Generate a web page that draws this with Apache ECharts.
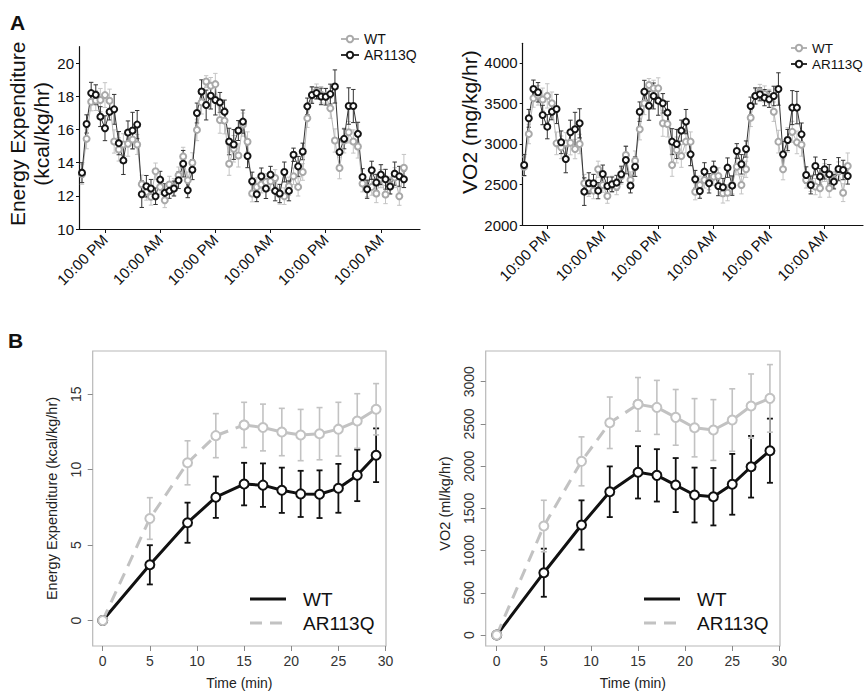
<!DOCTYPE html>
<html><head><meta charset="utf-8">
<script src="https://cdn.jsdelivr.net/npm/echarts@6/dist/echarts.min.js"></script>
<style>html,body{margin:0;padding:0;background:#fff}#c{width:868px;height:694px}</style>
</head><body><div id="c"></div>
<script>
const FONT = '"Liberation Sans", Arial, Helvetica, sans-serif';

// ---------- Panel A: hourly recordings (hours from start) ----------
const tickHoursA = [5, 17, 29, 41, 53, 65];
const tickLabelsA = ['10:00 PM', '10:00 AM', '10:00 PM', '10:00 AM', '10:00 PM', '10:00 AM'];

const eeWT_A = [13.3, 15.44, 17.68, 17.75, 17.78, 18.08, 17.74, 15.28, 14.8, 15.1, 15.14, 15.4, 15.1, 12.7, 12.24, 11.94, 13.48, 12.54, 11.74, 12.68, 12.54, 13.24, 14.38, 12.94, 14.0, 15.98, 17.64, 18.9, 18.64, 18.74, 16.58, 16.54, 13.94, 14.84, 14.44, 16.3,
  15.26, 12.14, 12.54, 12.68, 12.84, 12.88, 13.08, 12.1, 11.98, 12.58, 13.18, 12.54, 13.44, 16.68, 18.1, 18.3, 18.1, 18.04, 17.28, 15.34, 13.68, 15.34, 15.84, 15.28, 14.98, 12.74, 12.44, 12.54, 12.14, 13.04, 12.08, 12.64, 13.1, 11.98, 13.7];
const eeWT_A_err = [0.6, 0.6, 0.55, 0.6, 0.7, 0.75, 0.7, 0.7, 0.7, 0.65, 0.75, 0.6, 0.6, 0.55, 0.5, 0.5, 0.5, 0.45, 0.45, 0.5, 0.5, 0.5, 0.55, 0.5, 0.6, 0.65, 0.7, 0.35, 0.5, 0.65, 0.8, 0.8, 0.7, 0.8, 0.7, 0.7,
  0.6, 0.5, 0.55, 0.5, 0.5, 0.55, 0.5, 0.6, 0.5, 0.55, 0.5, 0.55, 0.5, 0.55, 0.45, 0.45, 0.5, 0.45, 0.6, 0.7, 0.65, 0.75, 0.65, 0.7, 0.7, 0.5, 0.5, 0.5, 0.55, 0.55, 0.55, 0.5, 0.6, 0.55, 0.8];
const eeAR_A = [13.4, 16.34, 18.2, 18.1, 16.78, 16.08, 17.08, 17.22, 15.18, 14.14, 15.82, 15.94, 16.3, 12.1, 12.58, 12.44, 11.98, 12.98, 12.18, 12.3, 12.44, 12.94, 13.94, 12.34, 13.58, 17.0, 18.3, 17.48, 18.04, 17.78, 17.64, 17.08, 15.28, 15.1, 15.94, 16.48,
  14.4, 12.88, 12.1, 13.18, 12.44, 13.28, 12.3, 12.14, 13.44, 12.3, 14.48, 13.78, 14.68, 17.4, 18.08, 18.2, 18.0, 17.98, 18.14, 18.6, 14.64, 15.44, 17.42, 17.42, 15.74, 13.14, 12.4, 13.54, 12.8, 13.28, 13.0, 12.56, 13.34, 13.18, 13.0];
const eeAR_A_err = [0.6, 0.55, 0.65, 0.6, 0.6, 0.75, 0.5, 0.9, 0.7, 0.85, 0.7, 1.1, 0.85, 0.8, 0.65, 0.55, 0.5, 0.5, 0.55, 0.45, 0.45, 0.5, 0.8, 0.45, 0.6, 0.6, 0.7, 0.9, 0.8, 0.9, 0.6, 0.7, 0.8, 0.9, 0.6, 0.7,
  0.7, 0.55, 0.45, 0.5, 0.6, 0.5, 0.6, 0.55, 0.6, 0.6, 0.4, 0.6, 0.5, 0.5, 0.5, 0.35, 0.5, 0.5, 0.6, 1.0, 0.8, 0.6, 1.1, 1.0, 0.7, 0.5, 0.55, 0.55, 0.5, 0.6, 0.6, 0.45, 0.7, 0.6, 0.5];

const vo2WT_A = [2720, 3123, 3564, 3600, 3550, 3594, 3502, 3008, 2959, 3010, 3016, 2938, 3000, 2515, 2453, 2424, 2688, 2494, 2358, 2502, 2474, 2605, 2865, 2556, 2794, 3181, 3502, 3728, 3687, 3687, 3255, 3247, 2741, 2926, 2852, 3029,
  3029, 2411, 2494, 2556, 2535, 2597, 2605, 2391, 2399, 2494, 2720, 2494, 2688, 3325, 3593, 3646, 3617, 3584, 3399, 3029, 2688, 3050, 3150, 3020, 2990, 2556, 2515, 2474, 2453, 2647, 2453, 2556, 2659, 2399, 2729];
const vo2WT_A_err = [120, 120, 110, 120, 140, 150, 140, 140, 140, 130, 150, 120, 120, 110, 100, 100, 100, 90, 90, 100, 100, 100, 110, 100, 120, 130, 140, 80, 100, 130, 160, 160, 140, 160, 140, 140,
  120, 100, 110, 100, 100, 110, 100, 120, 100, 110, 100, 110, 100, 110, 90, 90, 100, 90, 120, 140, 130, 150, 130, 140, 140, 100, 100, 100, 110, 110, 110, 100, 120, 110, 160];
const vo2AR_A = [2741, 3317, 3679, 3638, 3358, 3214, 3399, 3432, 3021, 2815, 3144, 3181, 3255, 2412, 2515, 2515, 2424, 2630, 2482, 2502, 2523, 2626, 2802, 2486, 2720, 3399, 3646, 3473, 3593, 3535, 3502, 3387, 3029, 3000, 3165, 3276,
  2872, 2564, 2420, 2659, 2515, 2688, 2482, 2465, 2708, 2486, 2914, 2749, 2938, 3469, 3593, 3613, 3572, 3552, 3593, 3679, 2872, 3049, 3449, 3449, 3119, 2618, 2494, 2729, 2597, 2688, 2626, 2535, 2692, 2679, 2605];
const vo2AR_A_err = [130, 110, 110, 120, 120, 150, 100, 180, 140, 170, 150, 210, 180, 170, 130, 110, 100, 110, 110, 90, 90, 100, 170, 90, 120, 120, 140, 180, 160, 180, 120, 140, 160, 180, 130, 150,
  140, 110, 90, 110, 120, 100, 120, 110, 120, 120, 90, 120, 100, 110, 100, 80, 100, 100, 120, 200, 160, 130, 210, 200, 140, 100, 110, 110, 100, 120, 120, 90, 140, 120, 100];

// ---------- Panel B: time course (min) ----------
const timeB = [0, 5, 9, 12, 15, 17, 19, 21, 23, 25, 27, 29];
const timeTicksB = [0, 5, 10, 15, 20, 25, 30];
const eeTicksB = [0, 5, 10, 15];
const vo2TicksB = [0, 500, 1000, 1500, 2000, 2500, 3000];
const eeWT_B = [0, 3.69, 6.48, 8.17, 9.04, 8.97, 8.63, 8.39, 8.37, 8.76, 9.62, 10.95];
const eeWT_B_err = [0, 1.3, 1.33, 1.37, 1.41, 1.44, 1.5, 1.53, 1.58, 1.62, 1.71, 1.78];
const eeAR_B = [0, 6.76, 10.45, 12.25, 12.96, 12.79, 12.49, 12.29, 12.38, 12.68, 13.22, 14.0];
const eeAR_B_err = [0, 1.38, 1.46, 1.46, 1.5, 1.55, 1.57, 1.7, 1.73, 1.78, 1.81, 1.7];
const vo2WT_B = [0, 738, 1303, 1697, 1927, 1891, 1776, 1658, 1638, 1785, 1993, 2183];
const vo2WT_B_err = [0, 285, 292, 300, 310, 310, 320, 325, 340, 360, 365, 380];
const vo2AR_B = [0, 1291, 2057, 2514, 2732, 2696, 2578, 2455, 2428, 2546, 2712, 2803];
const vo2AR_B_err = [0, 305, 290, 305, 318, 320, 330, 345, 360, 370, 380, 400];

// ---------- helpers ----------
const hoursA = eeWT_A.map((_, i) => i);
const pairs = (xs, ys) => xs.map((x, i) => [x, ys[i]]);
const errData = (xs, ys, es) => xs.map((x, i) => [x, ys[i] - es[i], ys[i] + es[i]]).filter((d, i) => es[i] > 0);
const plain = v => String(v);

function errRender(capHalf, color, width) {
  return function (params, api) {
    const x = api.value(0), lo = api.value(1), hi = api.value(2);
    const p1 = api.coord([x, hi]), p2 = api.coord([x, lo]);
    const st = { stroke: color, lineWidth: width };
    return {
      type: 'group', children: [
        { type: 'line', shape: { x1: p1[0], y1: p1[1], x2: p2[0], y2: p2[1] }, style: st },
        { type: 'line', shape: { x1: p1[0] - capHalf, y1: p1[1], x2: p1[0] + capHalf, y2: p1[1] }, style: st },
        { type: 'line', shape: { x1: p2[0] - capHalf, y1: p2[1], x2: p2[0] + capHalf, y2: p2[1] }, style: st }
      ]
    };
  };
}
function errSeries(name, idx, data, cap, color, width) {
  return { type: 'custom', name: name, xAxisIndex: idx, yAxisIndex: idx, data: data,
    encode: { x: 0, y: [1, 2] }, renderItem: errRender(cap, color, width), silent: true, z: 2 };
}

const GRAY_A = '#a9a9a9', GRAY_A_ERR = '#c4c4c4', BLACK_A = '#151515';
function lineA(name, idx, ys, color, lineColor) {
  return { type: 'line', name: name, xAxisIndex: idx, yAxisIndex: idx, data: pairs(hoursA, ys),
    symbol: 'emptyCircle', symbolSize: 6, showSymbol: true,
    lineStyle: { color: lineColor, width: 1 },
    itemStyle: { color: color, borderColor: color, borderWidth: 1.6 },
    animation: false, z: 3 };
}

const GRAY_B = '#c2c2c2';
function lineB(name, idx, xs, ys, color, dashed) {
  return { type: 'line', name: name, xAxisIndex: idx, yAxisIndex: idx, data: pairs(xs, ys),
    symbol: 'emptyCircle', symbolSize: 9,
    lineStyle: { color: color, width: 3, type: dashed ? [12, 8] : 'solid' },
    itemStyle: { color: color, borderColor: color, borderWidth: 2.2 },
    animation: false, z: 3 };
}

function xAxisA(idx) {
  return { type: 'value', gridIndex: idx, min: idx === 0 ? -0.65 : -0.32, max: idx === 0 ? 73.5 : 73.3,
    axisLine: { onZero: false, lineStyle: { color: '#111', width: 1.2 } },
    axisTick: { customValues: tickHoursA, length: 4, lineStyle: { color: '#111' } },
    axisLabel: { customValues: tickHoursA, rotate: 45, margin: 8, fontSize: 15, color: '#111', fontFamily: FONT,
      formatter: v => tickLabelsA[tickHoursA.indexOf(v)] },
    splitLine: { show: false } };
}
function xAxisB(idx, min, max) {
  return { type: 'value', gridIndex: idx, min: min, max: max,
    name: 'Time (min)', nameLocation: 'middle', nameGap: 30,
    nameTextStyle: { fontSize: 14, color: '#222', fontFamily: FONT },
    axisLine: { show: false, onZero: false },
    axisTick: { customValues: timeTicksB, length: 5, lineStyle: { color: '#888' } },
    axisLabel: { customValues: timeTicksB, margin: 8, fontSize: 14, color: '#333', fontFamily: FONT, formatter: plain },
    splitLine: { show: false } };
}

const chart = echarts.init(document.getElementById('c'), null, { renderer: 'svg' });
chart.setOption({
  backgroundColor: '#fff',
  animation: false,
  grid: [
    { left: 79, top: 46.7, width: 341, height: 182.3 },
    { left: 522.7, top: 43.3, width: 340.3, height: 181.7 },
    { left: 92.7, top: 351, width: 293.3, height: 295, show: true, borderColor: '#b8b8b8', borderWidth: 1.2 },
    { left: 485.7, top: 351, width: 294.3, height: 295, show: true, borderColor: '#b8b8b8', borderWidth: 1.2 }
  ],
  xAxis: [xAxisA(0), xAxisA(1), xAxisB(2, -1.06, 30.05), xAxisB(3, -1.17, 30.07)],
  yAxis: [
    { type: 'value', gridIndex: 0, min: 10, max: 21, interval: 2,
      name: 'Energy Expenditure\n(kcal/kg/hr)', nameLocation: 'middle', nameGap: 20,
      nameTextStyle: { fontSize: 21, lineHeight: 24, color: '#111', fontFamily: FONT, padding: [0, 0, 0, 8] },
      axisLine: { show: true, onZero: false, lineStyle: { color: '#111', width: 1.2 } },
      axisTick: { show: true, length: 3, lineStyle: { color: '#111' } },
      axisLabel: { fontSize: 15, color: '#111', margin: 5, fontFamily: FONT, showMaxLabel: false, formatter: plain },
      splitLine: { show: false } },
    { type: 'value', gridIndex: 1, min: 2000, max: 4243, interval: 500,
      name: 'VO2 (mg/kg/hr)', nameLocation: 'middle', nameGap: 32,
      nameTextStyle: { fontSize: 21, color: '#111', fontFamily: FONT, padding: [0, 0, 0, 24] },
      axisLine: { show: true, onZero: false, lineStyle: { color: '#111', width: 1.2 } },
      axisTick: { show: true, length: 3, lineStyle: { color: '#111' } },
      axisLabel: { fontSize: 15, color: '#111', margin: 5, fontFamily: FONT, showMaxLabel: false, formatter: plain },
      splitLine: { show: false } },
    { type: 'value', gridIndex: 2, min: -1.69, max: 17.86,
      name: 'Energy Expenditure (kcal/kg/hr)', nameLocation: 'middle', nameGap: 33,
      nameTextStyle: { fontSize: 14.5, color: '#222', fontFamily: FONT },
      axisLine: { show: false, onZero: false },
      axisTick: { customValues: eeTicksB, length: 5, lineStyle: { color: '#888' } },
      axisLabel: { customValues: eeTicksB, rotate: 90, margin: 10, fontSize: 14, color: '#333', fontFamily: FONT, formatter: plain },
      splitLine: { show: false } },
    { type: 'value', gridIndex: 3, min: -130, max: 3364,
      name: 'VO2 (ml/kg/hr)', nameLocation: 'middle', nameGap: 33,
      nameTextStyle: { fontSize: 14.5, color: '#222', fontFamily: FONT, padding: [0, 10, 0, 0] },
      axisLine: { show: false, onZero: false },
      axisTick: { customValues: vo2TicksB, length: 5, lineStyle: { color: '#888' } },
      axisLabel: { customValues: vo2TicksB, rotate: 90, margin: 10, fontSize: 14, color: '#333', fontFamily: FONT, formatter: plain },
      splitLine: { show: false } }
  ],
  legend: [
    { data: ['WT', 'AR113Q'], left: 340, top: 31, padding: 0, orient: 'vertical', itemWidth: 18, itemHeight: 8, itemGap: 0,
      selectedMode: false, textStyle: { fontSize: 14, lineHeight: 16, color: '#111', fontFamily: FONT } },
    { data: ['WT', 'AR113Q'], left: 790, top: 40, padding: 0, orient: 'vertical', itemWidth: 16, itemHeight: 8, itemGap: 0,
      selectedMode: false, textStyle: { fontSize: 13.5, lineHeight: 16, color: '#111', fontFamily: FONT } }
  ],
  graphic: [
    { type: 'text', left: 10, top: 12, style: { text: 'A', font: 'bold 21px ' + FONT, fill: '#111' } },
    { type: 'text', left: 8, top: 330, style: { text: 'B', font: 'bold 21px ' + FONT, fill: '#111' } },
    { type: 'line', shape: { x1: 250, y1: 599, x2: 286, y2: 599 }, style: { stroke: '#111', lineWidth: 3 } },
    { type: 'line', shape: { x1: 250, y1: 623, x2: 286, y2: 623 }, style: { stroke: GRAY_B, lineWidth: 3, lineDash: [12, 8] } },
    { type: 'text', x: 303, y: 599, style: { text: 'WT', font: '19px ' + FONT, fill: '#111', textVerticalAlign: 'middle', verticalAlign: 'middle' } },
    { type: 'text', x: 303, y: 623, style: { text: 'AR113Q', font: '19px ' + FONT, fill: '#111', textVerticalAlign: 'middle', verticalAlign: 'middle' } },
    { type: 'line', shape: { x1: 644, y1: 599, x2: 680, y2: 599 }, style: { stroke: '#111', lineWidth: 3 } },
    { type: 'line', shape: { x1: 644, y1: 623, x2: 680, y2: 623 }, style: { stroke: GRAY_B, lineWidth: 3, lineDash: [12, 8] } },
    { type: 'text', x: 697, y: 599, style: { text: 'WT', font: '19px ' + FONT, fill: '#111', textVerticalAlign: 'middle', verticalAlign: 'middle' } },
    { type: 'text', x: 697, y: 623, style: { text: 'AR113Q', font: '19px ' + FONT, fill: '#111', textVerticalAlign: 'middle', verticalAlign: 'middle' } }
  ],
  series: [
    // A left: energy expenditure
    lineA('WT', 0, eeWT_A, GRAY_A, '#b5b5b5'),
    lineA('AR113Q', 0, eeAR_A, BLACK_A, '#333'),
    errSeries('WT sem EE', 0, errData(hoursA, eeWT_A, eeWT_A_err), 2.2, GRAY_A_ERR, 1),
    errSeries('AR113Q sem EE', 0, errData(hoursA, eeAR_A, eeAR_A_err), 2.2, '#333', 1),
    // A right: VO2
    lineA('WT', 1, vo2WT_A, GRAY_A, '#b5b5b5'),
    lineA('AR113Q', 1, vo2AR_A, BLACK_A, '#333'),
    errSeries('WT sem VO2', 1, errData(hoursA, vo2WT_A, vo2WT_A_err), 2.2, GRAY_A_ERR, 1),
    errSeries('AR113Q sem VO2', 1, errData(hoursA, vo2AR_A, vo2AR_A_err), 2.2, '#333', 1),
    // B left
    errSeries('WT sem B1', 2, errData(timeB, eeWT_B, eeWT_B_err), 3, '#111', 1.8),
    lineB('WT', 2, timeB, eeWT_B, '#111', false),
    errSeries('AR113Q sem B1', 2, errData(timeB, eeAR_B, eeAR_B_err), 3, GRAY_B, 1.6),
    lineB('AR113Q', 2, timeB.slice(0, 5), eeAR_B.slice(0, 5), GRAY_B, true),
    lineB('AR113Q', 2, timeB.slice(4), eeAR_B.slice(4), GRAY_B, false),
    // B right
    errSeries('WT sem B2', 3, errData(timeB, vo2WT_B, vo2WT_B_err), 3, '#111', 1.8),
    lineB('WT', 3, timeB, vo2WT_B, '#111', false),
    errSeries('AR113Q sem B2', 3, errData(timeB, vo2AR_B, vo2AR_B_err), 3, GRAY_B, 1.6),
    lineB('AR113Q', 3, timeB.slice(0, 5), vo2AR_B.slice(0, 5), GRAY_B, true),
    lineB('AR113Q', 3, timeB.slice(4), vo2AR_B.slice(4), GRAY_B, false)
  ]
});
</script>
</body></html>
